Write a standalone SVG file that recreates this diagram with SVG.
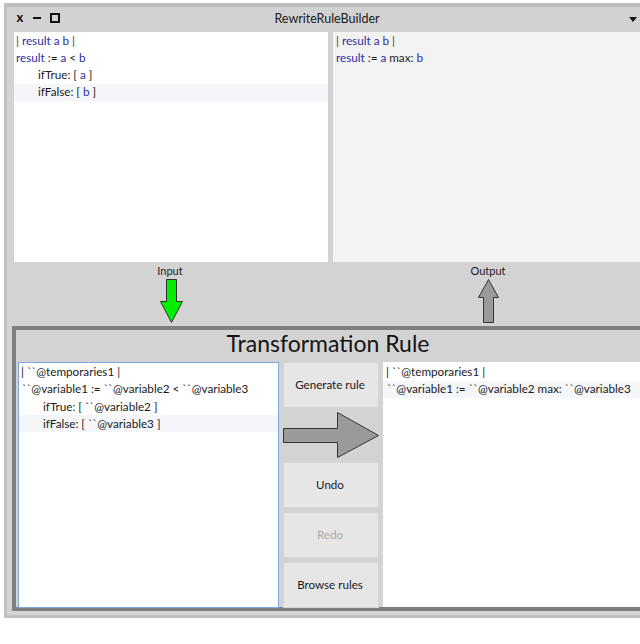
<svg xmlns="http://www.w3.org/2000/svg" width="640" height="644" viewBox="0 0 640 644">
  <defs>
    <style>
      text { font-family: Lato, "Noto Sans", "DejaVu Sans", sans-serif; }
      .code { font-size: 11.7px; fill: #1a1a1a; }
      .var { fill: #2e2ea0; }
      .bar { fill: #3a3a3a; }
      .btn { fill: #e6e6e6; stroke: #d6d6d6; stroke-width: 1; }
      .btnlabel { font-size: 11.6px; fill: #1a1a1a; text-anchor: middle; }
      .small { font-size: 11px; fill: #1a1a1a; text-anchor: middle; }
      .hl { fill: #f4f6f9; }
      .arrow { stroke: #333; stroke-width: 1; stroke-linejoin: miter; }
    </style>
  </defs>

  <rect width="640" height="644" fill="#ffffff"/>

  <!-- window frame and title bar -->
  <g id="window">
    <rect x="5.5" y="4.5" width="640" height="612" fill="#d3d3d3" stroke="#c0c0c0" stroke-width="3"/>
    <rect x="7" y="6" width="640" height="25" fill="#d2d2d2"/>
    <line x1="7" y1="6.5" x2="640" y2="6.5" stroke="#bcbcbc" stroke-width="1"/>
    <text x="20" y="22" font-size="13" font-weight="bold" text-anchor="middle" fill="#111">x</text>
    <rect x="33" y="17" width="8" height="2" fill="#111"/>
    <rect x="51" y="14" width="8" height="8" fill="none" stroke="#111" stroke-width="2"/>
    <text x="327" y="23" font-size="12.5" text-anchor="middle" fill="#1a1a1a">RewriteRuleBuilder</text>
    <polygon points="629,17 637,17 633,22" fill="#111"/>
  </g>

  <!-- input source pane -->
  <g id="input-pane">
    <rect x="14" y="32" width="314" height="230" fill="#ffffff"/>
    <rect x="14" y="84" width="314" height="17" class="hl"/>
    <text class="code" x="16" y="45"><tspan class="bar">|</tspan><tspan class="var"> result a b </tspan><tspan class="bar">|</tspan></text>
    <text class="code" x="16" y="62"><tspan class="var">result</tspan> := <tspan class="var">a</tspan> &lt; <tspan class="var">b</tspan></text>
    <text class="code" x="38" y="79">ifTrue: [ <tspan class="var">a</tspan> ]</text>
    <text class="code" x="38" y="96">ifFalse: [ <tspan class="var">b</tspan> ]</text>
  </g>

  <!-- output source pane -->
  <g id="output-pane">
    <rect x="333" y="32" width="307" height="230" fill="#f3f3f3"/>
    <text class="code" x="336" y="45"><tspan class="bar">|</tspan><tspan class="var"> result a b </tspan><tspan class="bar">|</tspan></text>
    <text class="code" x="336" y="62"><tspan class="var">result</tspan> := <tspan class="var">a</tspan> max: <tspan class="var">b</tspan></text>
  </g>

  <g id="input-label"><text class="small" x="170" y="275">Input</text></g>
  <g id="output-label"><text class="small" x="488" y="275">Output</text></g>

  <!-- transformation rule frame -->
  <g id="rule-frame">
    <rect x="14" y="328" width="640" height="281" fill="#d3d3d3" stroke="#7f7f7f" stroke-width="4"/>
    <text x="328" y="352" font-size="23" text-anchor="middle" fill="#141414">Transformation Rule</text>
  </g>

  <!-- pattern pane -->
  <g id="pattern-pane">
    <rect x="18.5" y="362.5" width="260" height="245" fill="#ffffff" stroke="#7fa9dc" stroke-width="1"/>
    <rect x="19" y="415" width="259" height="17" class="hl"/>
    <text class="code" x="21" y="376">| ``@temporaries1 |</text>
    <text class="code" x="22" y="393">``@variable1 := ``@variable2 &lt; ``@variable3</text>
    <text class="code" x="43" y="411">ifTrue: [ ``@variable2 ]</text>
    <text class="code" x="43" y="428">ifFalse: [ ``@variable3 ]</text>
  </g>

  <!-- buttons -->
  <g id="btn-generate">
    <rect class="btn" x="283.5" y="362.5" width="95" height="45"/>
    <text class="btnlabel" x="330" y="389">Generate rule</text>
  </g>
  <g id="btn-undo">
    <rect class="btn" x="283.5" y="462.5" width="95" height="45"/>
    <text class="btnlabel" x="330" y="489">Undo</text>
  </g>
  <g id="btn-redo">
    <rect class="btn" x="283.5" y="512.5" width="95" height="45"/>
    <text class="btnlabel" x="330" y="539" style="fill:#a8a8a8">Redo</text>
  </g>
  <g id="btn-browse">
    <rect class="btn" x="283.5" y="562.5" width="95" height="45"/>
    <text class="btnlabel" x="330" y="589">Browse rules</text>
  </g>

  <!-- result pane -->
  <g id="result-pane">
    <rect x="383" y="362" width="257" height="245" fill="#ffffff"/>
    <rect x="383" y="381" width="257" height="17" class="hl"/>
    <text class="code" x="386" y="376">| ``@temporaries1 |</text>
    <text class="code" x="387" y="393">``@variable1 := ``@variable2 max: ``@variable3</text>
  </g>

  <!-- arrows between panes -->
  <g id="connectors">
    <polygon class="arrow" fill="#00ee00" points="166.5,279.5 176.5,279.5 176.5,301.5 182.5,301.5 171.5,322.5 160.5,301.5 166.5,301.5"/>
    <polygon class="arrow" fill="#9a9a9a" points="488.5,279.5 498.5,297.5 493.5,297.5 493.5,322.5 483.5,322.5 483.5,297.5 478.5,297.5"/>
    <polygon class="arrow" fill="#9a9a9a" stroke="#444" points="283.5,428.5 337.5,428.5 337.5,412.5 378.5,435.5 337.5,457.5 337.5,442.5 283.5,442.5"/>
  </g>
</svg>
